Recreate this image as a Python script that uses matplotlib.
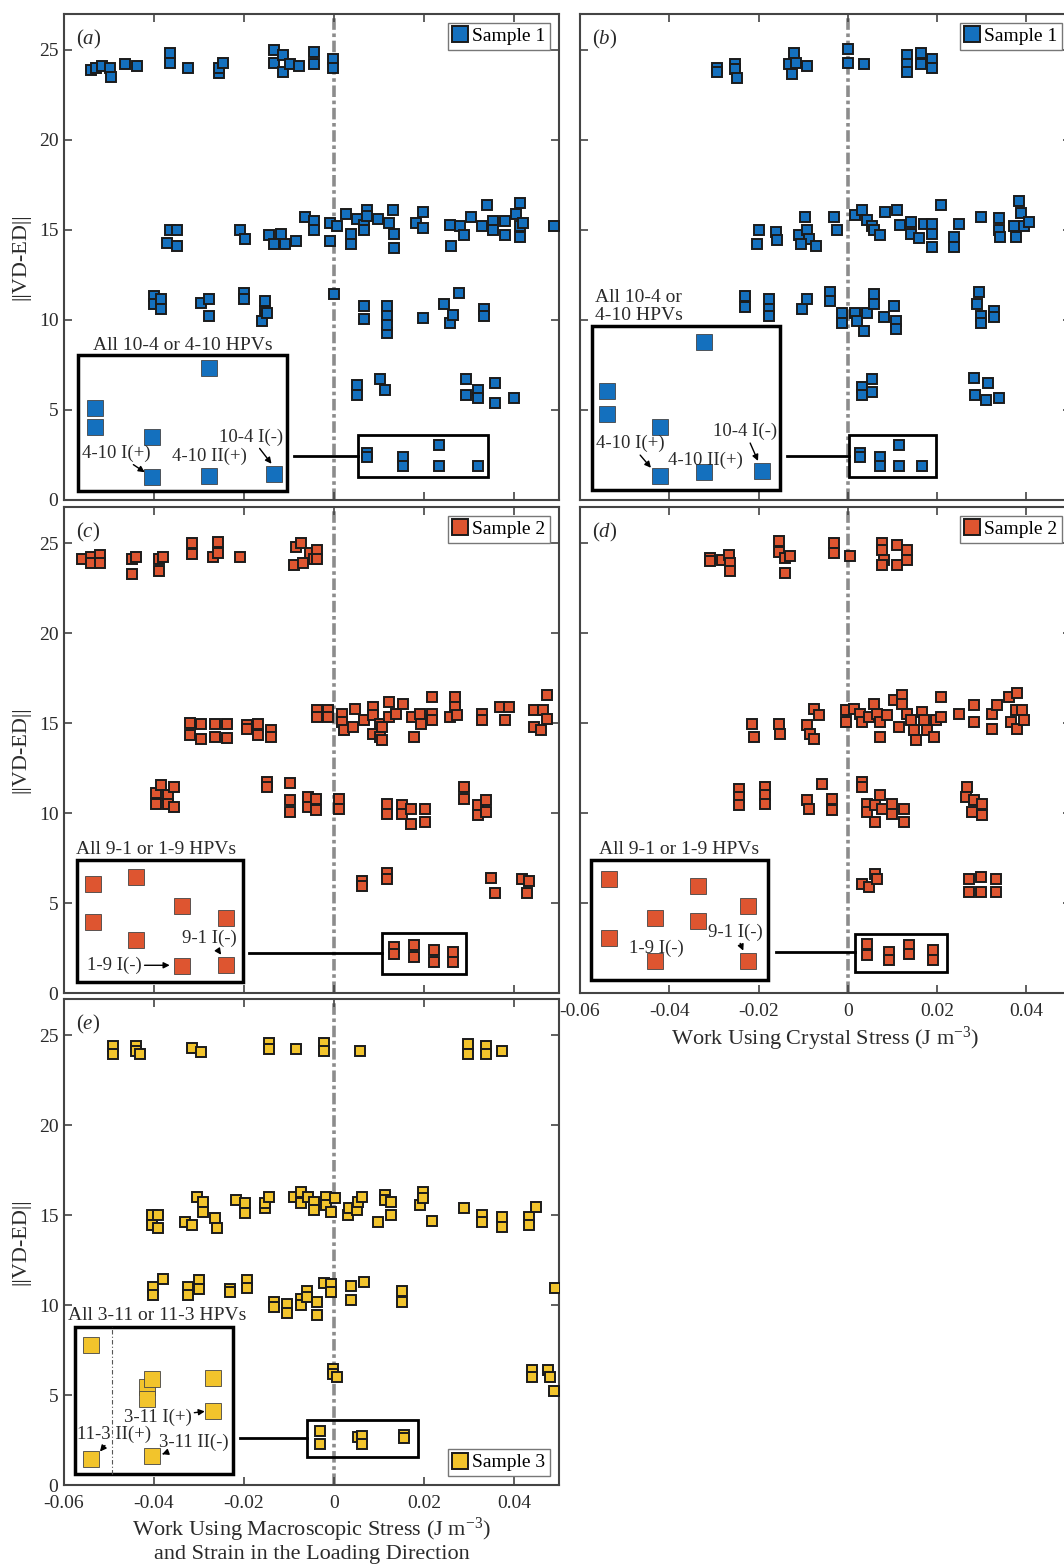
import matplotlib
matplotlib.use("Agg")
import matplotlib.pyplot as plt
from matplotlib.patches import Rectangle
from matplotlib.lines import Line2D

# ---- data: work (J m^-3) vs ||VD-ED|| ----
# panel (a): sample 1, macroscopic stress
a_x = [-0.0540, -0.0530, -0.0515, -0.0497, -0.0495, -0.0465, -0.0437, -0.0365, -0.0365, -0.0325,
       -0.0255, -0.0255, -0.0247, -0.0133, -0.0133, -0.0113, -0.0113, -0.0097, -0.0077, -0.0045,
       -0.0045, -0.0002, -0.0002,
       -0.0364, -0.0348, -0.0372, -0.0348, -0.0209, -0.0197, -0.0145, -0.0117, -0.0133, -0.0109,
       -0.0085, -0.0065, -0.0045, -0.0045, -0.0010, -0.0010, 0.0006, 0.0026, 0.0038, 0.0038,
       0.0050, 0.0066, 0.0074, 0.0074, 0.0066, 0.0098, 0.0122, 0.0130, 0.0134, 0.0134,
       0.0182, 0.0198, 0.0198, 0.0257, 0.0261, 0.0281, 0.0289, 0.0305, 0.0329, 0.0341,
       0.0353, 0.0353, 0.0381, 0.0381, 0.0405, 0.0413, 0.0413, 0.0413, 0.0421, 0.0488,
       -0.0400, -0.0400, -0.0384, -0.0384, -0.0296, -0.0277, -0.0277, -0.0201, -0.0201, -0.0161,
       -0.0153, -0.0153, -0.0150, 0.0, 0.0066, 0.0066, 0.0118, 0.0118, 0.0118, 0.0118,
       0.0198, 0.0245, 0.0257, 0.0265, 0.0277, 0.0333, 0.0333,
       0.0050, 0.0050, 0.0102, 0.0114, 0.0293, 0.0293, 0.0321, 0.0321, 0.0357, 0.0357, 0.0401,
       0.0074, 0.0074, 0.0154, 0.0154, 0.0233, 0.0233, 0.0321]
a_y = [23.9, 24.0, 24.1, 24.0, 23.5, 24.2, 24.1, 24.85, 24.3, 24.0,
       23.7, 24.0, 24.3, 25.0, 24.3, 24.7, 23.8, 24.2, 24.1, 24.9,
       24.2, 24.5, 24.0,
       15.0, 15.0, 14.3, 14.1, 15.0, 14.5, 14.7, 14.8, 14.2, 14.2,
       14.4, 15.7, 15.5, 15.0, 15.4, 14.4, 15.2, 15.9, 14.8, 14.2,
       15.6, 15.3, 16.1, 15.8, 15.0, 15.6, 15.4, 16.1, 14.8, 14.0,
       15.4, 16.0, 15.1, 15.3, 14.1, 15.2, 14.7, 15.7, 15.2, 16.4,
       15.5, 15.0, 15.5, 14.7, 15.9, 16.5, 15.2, 14.6, 15.4, 15.2,
       11.35, 10.9, 11.15, 10.6, 10.95, 11.15, 10.2, 11.5, 11.15, 9.95,
       10.5, 11.05, 10.4, 11.45, 10.8, 10.05, 10.8, 10.2, 9.3, 9.75,
       10.1, 10.9, 9.85, 10.3, 11.5, 10.6, 10.2,
       6.4, 5.85, 6.7, 6.1, 6.75, 5.85, 6.1, 5.65, 6.5, 5.4, 5.65,
       2.6, 2.4, 2.4, 1.9, 3.05, 1.9, 1.9]
a_zoom_x = [-0.0532, -0.0532, -0.0404, -0.0404, -0.0277, -0.0277, -0.0133]
a_zoom_y = [5.1, 4.07, 3.5, 1.3, 7.33, 1.36, 1.45]

# panel (b): sample 1, crystal stress
b_x = [-0.0293, -0.0293, -0.0252, -0.0252, -0.0248, -0.0132, -0.0125, -0.0121, -0.0117, -0.0091,
       0.0, 0.0, 0.0036, 0.0133, 0.0133, 0.0133, 0.0163, 0.0163, 0.0189, 0.0189,
       -0.0200, -0.0203, -0.0162, -0.0159, -0.0110, -0.0095, -0.0091, -0.0087, -0.0072, -0.0106,
       -0.0031, -0.0024, 0.0017, 0.0032, 0.0043, 0.0055, 0.0058, 0.0073, 0.0084, 0.0111,
       0.0118, 0.0141, 0.0141, 0.0159, 0.0170, 0.0189, 0.0189, 0.0189, 0.0208, 0.0238,
       0.0238, 0.0249, 0.0298, 0.0339, 0.0339, 0.0342, 0.0372, 0.0376, 0.0384, 0.0387,
       0.0395, 0.0406,
       -0.0230, -0.0230, -0.0177, -0.0177, -0.0177, -0.0102, -0.0091, -0.0039, -0.0039, -0.0013,
       -0.0013, 0.0017, 0.0021, 0.0036, 0.0043, 0.0058, 0.0058, 0.0081, 0.0103, 0.0107,
       0.0107, 0.0294, 0.0290, 0.0298, 0.0298, 0.0327, 0.0327,
       0.0032, 0.0032, 0.0055, 0.0055, 0.0283, 0.0286, 0.0313, 0.0309, 0.0339,
       0.0028, 0.0028, 0.0073, 0.0073, 0.0114, 0.0114, 0.0167]
b_y = [24.0, 23.8, 24.2, 23.95, 23.45, 24.2, 23.65, 24.85, 24.3, 24.1,
       25.05, 24.3, 24.2, 24.75, 24.2, 23.8, 24.85, 24.2, 24.5, 24.0,
       15.0, 14.25, 14.9, 14.45, 14.7, 15.75, 15.0, 14.5, 14.1, 14.25,
       15.75, 15.0, 15.85, 16.1, 15.55, 15.2, 15.0, 14.7, 16.0, 16.1,
       15.3, 15.45, 14.8, 14.55, 15.35, 15.35, 14.8, 14.05, 16.4, 14.6,
       14.05, 15.35, 15.75, 15.65, 15.0, 14.6, 15.2, 14.6, 16.6, 15.95,
       15.2, 15.45,
       11.35, 10.7, 11.15, 10.6, 10.2, 10.6, 11.15, 11.55, 11.05, 10.4,
       9.85, 10.4, 9.95, 9.4, 10.4, 11.45, 10.9, 10.15, 10.8, 9.95,
       9.5, 11.55, 10.9, 10.2, 9.85, 10.5, 10.15,
       6.3, 5.85, 6.7, 6.0, 6.77, 5.85, 6.5, 5.55, 5.65,
       2.6, 2.4, 2.4, 1.9, 3.05, 1.9, 1.9]
b_zoom_x = [-0.0540, -0.0540, -0.0420, -0.0420, -0.0323, -0.0323, -0.0192]
b_zoom_y = [6.03, 4.78, 4.07, 1.36, 8.77, 1.53, 1.59]

# panel (c): sample 2, macroscopic stress
c_x = [-0.0559, -0.0539, -0.0539, -0.0520, -0.0520, -0.0448, -0.0448, -0.0440, -0.0388, -0.0388,
       -0.0380, -0.0316, -0.0316, -0.0269, -0.0257, -0.0257, -0.0209, -0.0089, -0.0085, -0.0073,
       -0.0069, -0.0053, -0.0045, -0.0037, -0.0037,
       -0.0320, -0.0296, -0.0265, -0.0237, -0.0320, -0.0296, -0.0265, -0.0237, -0.0193, -0.0169,
       -0.0193, -0.0169, -0.0141, -0.0141,
       -0.0037, -0.0037, -0.0014, -0.0014, 0.0018, 0.0018, 0.0022, 0.0046, 0.0042, 0.0066,
       0.0086, 0.0086, 0.0086, 0.0102, 0.0102, 0.0106, 0.0122, 0.0122, 0.0138, 0.0154,
       0.0174, 0.0178, 0.0190, 0.0194, 0.0218, 0.0218, 0.0218, 0.0257, 0.0269, 0.0269,
       0.0273, 0.0329, 0.0329, 0.0369, 0.0381, 0.0389, 0.0445, 0.0445, 0.0461, 0.0465,
       0.0473, 0.0473, 0.0106,
       -0.0396, -0.0396, -0.0384, -0.0368, -0.0368, -0.0356, -0.0356, -0.0149, -0.0149, -0.0097,
       -0.0097, -0.0097, -0.0057, -0.0057, -0.0041, -0.0041, 0.0010, 0.0010, 0.0118, 0.0118,
       0.0150, 0.0150, 0.0170, 0.0170, 0.0202, 0.0202, 0.0289, 0.0289, 0.0321, 0.0321,
       0.0337, 0.0337,
       0.0062, 0.0062, 0.0118, 0.0118, 0.0349, 0.0357, 0.0417, 0.0429, 0.0433,
       0.0134, 0.0134, 0.0178, 0.0178, 0.0222, 0.0222, 0.0265, 0.0265]
c_y = [24.1, 24.25, 23.9, 24.35, 23.9, 24.1, 23.3, 24.25, 24.1, 23.45,
       24.25, 25.0, 24.4, 24.25, 25.04, 24.45, 24.25, 23.8, 24.8, 25.0,
       23.9, 24.45, 24.1, 24.6, 24.1,
       15.0, 14.93, 14.96, 14.96, 14.31, 14.13, 14.2, 14.18, 14.87, 14.96,
       14.68, 14.31, 14.6, 14.2,
       15.7, 15.33, 15.7, 15.33, 15.52, 15.06, 14.6, 15.8, 14.78, 15.15,
       15.9, 15.43, 14.4, 14.96, 14.22, 14.78, 16.17, 15.33, 15.52, 16.08,
       15.33, 14.22, 15.52, 14.96, 16.45, 15.52, 15.15, 15.33, 16.45, 15.9,
       15.43, 15.52, 15.15, 15.9, 15.15, 15.9, 15.7, 14.78, 14.6, 15.7,
       15.24, 16.54, 14.04,
       11.09, 10.52, 11.55, 11.0, 10.52, 11.46, 10.34, 11.74, 11.46, 11.65,
       10.71, 10.06, 10.9, 10.34, 10.8, 10.15, 10.8, 10.24, 10.52, 9.96,
       10.43, 9.96, 10.24, 9.4, 10.24, 9.49, 11.46, 10.8, 10.43, 9.87,
       10.71, 10.06,
       6.22, 5.94, 6.69, 6.31, 6.4, 5.56, 6.31, 5.56, 6.22,
       2.57, 2.19, 2.66, 2.0, 2.38, 1.72, 2.28, 1.72]
c_zoom_x = [-0.0535, -0.0535, -0.0440, -0.0440, -0.0338, -0.0338, -0.0239, -0.0239]
c_zoom_y = [6.03, 3.93, 6.44, 2.94, 4.85, 1.5, 4.16, 1.54]

# panel (d): sample 2, crystal stress
d_x = [-0.0308, -0.0308, -0.0282, -0.0267, -0.0263, -0.0263, -0.0155, -0.0155, -0.0140, -0.0140,
       -0.0129, -0.0031, -0.0031, 0.0006, 0.0077, 0.0077, 0.0081, 0.0077, 0.0111, 0.0111,
       0.0133, 0.0133,
       -0.0215, -0.0211, -0.0155, -0.0151, -0.0091, -0.0084, -0.0076, -0.0076, -0.0065,
       -0.0005, -0.0005, 0.0013, 0.0028, 0.0032, 0.0047, 0.0058, 0.0066, 0.0073, 0.0073,
       0.0088, 0.0103, 0.0114, 0.0122, 0.0122, 0.0133, 0.0141, 0.0148, 0.0152, 0.0167,
       0.0170, 0.0178, 0.0193, 0.0197, 0.0208, 0.0208, 0.0249, 0.0283, 0.0283, 0.0324,
       0.0324, 0.0335, 0.0361, 0.0365, 0.0376, 0.0380, 0.0380, 0.0391, 0.0395,
       -0.0244, -0.0244, -0.0244, -0.0185, -0.0185, -0.0185, -0.0091, -0.0087, -0.0058, -0.0035,
       -0.0035, 0.0032, 0.0032, 0.0043, 0.0043, 0.0062, 0.0062, 0.0073, 0.0077, 0.0099,
       0.0099, 0.0126, 0.0126, 0.0268, 0.0264, 0.0283, 0.0279, 0.0301, 0.0301,
       0.0032, 0.0047, 0.0062, 0.0066, 0.0271, 0.0271, 0.0298, 0.0298, 0.0331, 0.0331,
       0.0043, 0.0043, 0.0092, 0.0092, 0.0137, 0.0137, 0.0191, 0.0191]
d_y = [24.16, 23.98, 24.07, 24.35, 23.88, 23.42, 25.09, 24.48, 24.16, 23.33,
       24.26, 25.0, 24.44, 24.26, 25.0, 24.63, 24.07, 23.79, 24.91, 23.79,
       24.63, 24.07,
       14.96, 14.22, 14.96, 14.41, 14.87, 14.41, 15.79, 14.13, 15.42,
       15.7, 15.06, 15.79, 15.52, 15.06, 15.33, 16.08, 15.52, 15.06, 14.22,
       15.42, 16.26, 14.78, 16.54, 16.08, 15.52, 15.15, 14.6, 14.04, 15.61,
       15.15, 14.6, 14.22, 15.15, 16.45, 15.33, 15.52, 15.98, 15.06, 15.52,
       14.68, 15.98, 16.45, 15.06, 15.7, 16.64, 14.68, 15.7, 15.15,
       11.35, 10.89, 10.43, 11.44, 10.98, 10.52, 10.7, 10.24, 11.63, 10.8,
       10.15, 11.72, 11.44, 10.52, 10.06, 10.43, 9.5, 10.98, 10.24, 10.52,
       9.96, 10.24, 9.5, 11.44, 10.89, 10.7, 10.06, 10.52, 9.87,
       6.07, 5.89, 6.63, 6.35, 6.35, 5.61, 6.44, 5.61, 6.35, 5.61,
       2.74, 2.09, 2.28, 1.81, 2.65, 2.19, 2.41, 1.81]
d_zoom_x = [-0.0536, -0.0536, -0.0433, -0.0433, -0.0335, -0.0335, -0.0224, -0.0224]
d_zoom_y = [6.35, 3.07, 4.19, 1.76, 5.94, 4.0, 4.83, 1.76]

# panel (e): sample 3, macroscopic stress
e_x = [-0.0492, -0.0492, -0.0440, -0.0440, -0.0432, -0.0316, -0.0296, -0.0145, -0.0145, -0.0085,
       -0.0022, -0.0022, 0.0057, 0.0297, 0.0297, 0.0337, 0.0337, 0.0373,
       -0.0404, -0.0404, -0.0392, -0.0392, -0.0332, -0.0316, -0.0304, -0.0292, -0.0292, -0.0265,
       -0.0261, -0.0217, -0.0197, -0.0197, -0.0153, -0.0153, -0.0145, -0.0089, -0.0073, -0.0073,
       -0.0057, -0.0045, -0.0045, -0.0018, -0.0018, -0.0006, 0.0002, 0.0030, 0.0034, 0.0050,
       0.0054, 0.0062, 0.0098, 0.0114, 0.0114, 0.0126, 0.0126, 0.0190, 0.0198, 0.0198,
       0.0218, 0.0289, 0.0329, 0.0329, 0.0373, 0.0373, 0.0433, 0.0433, 0.0449,
       -0.0402, -0.0402, -0.0379, -0.0324, -0.0324, -0.0301, -0.0301, -0.0231, -0.0231, -0.0194,
       -0.0194, -0.0134, -0.0134, -0.0104, -0.0104, -0.0074, -0.0074, -0.0060, -0.0060, -0.0037,
       -0.0037, -0.0022, -0.0007, -0.0007, 0.0037, 0.0037, 0.0067, 0.0152, 0.0152, 0.0491,
       -0.0002, -0.0002, 0.0006, 0.0441, 0.0441, 0.0476, 0.0480, 0.0488,
       -0.0031, -0.0031, 0.0054, 0.0062, 0.0062, 0.0156, 0.0156]
e_y = [24.39, 23.92, 24.39, 24.11, 23.96, 24.29, 24.07, 24.57, 24.2, 24.2,
       24.57, 24.11, 24.11, 24.48, 23.96, 24.39, 23.96, 24.11,
       15.0, 14.44, 15.0, 14.26, 14.63, 14.44, 16.02, 15.74, 15.19, 14.81,
       14.26, 15.84, 15.65, 15.09, 15.37, 15.65, 16.02, 16.02, 16.3, 15.65,
       16.02, 15.74, 15.28, 16.02, 15.56, 15.19, 15.93, 15.0, 15.37, 15.28,
       15.74, 16.02, 14.63, 16.11, 15.84, 15.74, 15.0, 15.56, 16.3, 15.93,
       14.67, 15.37, 15.0, 14.63, 14.91, 14.35, 14.91, 14.44, 15.46,
       10.98, 10.56, 11.44, 10.98, 10.56, 11.41, 10.89, 10.89, 10.7, 11.41,
       10.93, 10.15, 9.87, 10.06, 9.56, 10.33, 10.0, 10.8, 10.43, 10.15,
       9.44, 11.22, 11.17, 10.7, 11.04, 10.3, 11.3, 10.8, 10.19, 10.93,
       6.46, 6.18, 5.99, 6.37, 5.99, 6.37, 5.99, 5.25,
       2.98, 2.27, 2.64, 2.74, 2.27, 2.79, 2.6]
e_zoom_x = [-0.0539, -0.0539, -0.0416, -0.0416, -0.0404, -0.0269, -0.0269, -0.0404]
e_zoom_y = [7.77, 1.43, 5.44, 4.79, 5.9, 5.96, 4.1, 1.62]

x_ticks = [-0.06, -0.04, -0.02, 0, 0.02, 0.04]
x_tick_labels = ['-0.06', '-0.04', '-0.02', '0', '0.02', '0.04']
y_ticks = [0, 5, 10, 15, 20, 25]

plt.rcParams['font.family'] = ['Liberation Serif', 'DejaVu Serif']
plt.rcParams['mathtext.fontset'] = 'custom'
plt.rcParams['mathtext.rm'] = 'Liberation Serif'
plt.rcParams['mathtext.it'] = 'Liberation Serif:italic'

BLUE = '#1470BE'
RED = '#DE5530'
YELLOW = '#F2C42C'
EDGE = '#1b1b1b'
TXT = '#2a2a2a'

W, H = 1064, 1568
fig = plt.figure(figsize=(W / 100, H / 100), dpi=100)


def add_ax(left, top, width, height=486):
    return fig.add_axes([left / W, (H - top - height) / H, width / W, height / H])


ax_a = add_ax(64, 14, 495)
ax_c = add_ax(64, 507, 495)
ax_e = add_ax(64, 999, 495)
ax_b = add_ax(580, 14, 491)
ax_d = add_ax(580, 507, 491)

# layout of the zoom boxes (data coordinates of each panel)
layouts = {
    'a': dict(inset=(-0.0570, 0.52, -0.0105, 8.08), box=(0.0054, 1.3, 0.0343, 3.6),
              link=(-0.0089, 0.0054, 2.43),
              title=('All 10-4 or 4-10 HPVs', -0.0336, 8.6, 'center'),
              notes=[('4-10 I(+)', (-0.0484, 2.6), (-0.0418, 1.5)),
                     ('4-10 II(+)', (-0.0277, 2.4), None),
                     ('10-4 I(-)', (-0.0185, 3.5), (-0.0137, 1.95))]),
    'b': dict(inset=(-0.0573, 0.56, -0.0153, 9.66), box=(0.0002, 1.27, 0.0197, 3.6),
              link=(-0.0136, 0.0002, 2.43),
              title=('All 10-4 or\n4-10 HPVs', -0.0566, 10.75, 'left'),
              notes=[('4-10 I(+)', (-0.0487, 3.13), (-0.0439, 1.73)),
                     ('4-10 II(+)', (-0.0319, 2.2), None),
                     ('10-4 I(-)', (-0.0230, 3.8), (-0.0200, 2.1))]),
    'c': dict(inset=(-0.0571, 0.6, -0.0202, 7.38), box=(0.0106, 1.07, 0.0293, 3.35),
              link=(-0.0189, 0.0106, 2.23),
              title=('All 9-1 or 1-9 HPVs', -0.0396, 7.96, 'center'),
              notes=[('1-9 I(-)', (-0.0488, 1.54), (-0.0362, 1.54)),
                     ('9-1 I(-)', (-0.0276, 3.03), (-0.0249, 2.06))]),
    'd': dict(inset=(-0.0576, 0.7, -0.0179, 7.41), box=(0.0017, 1.17, 0.0223, 3.3),
              link=(-0.0162, 0.0017, 2.28),
              title=('All 9-1 or 1-9 HPVs', -0.0379, 7.98, 'center'),
              notes=[('1-9 I(-)', (-0.0428, 2.46), None),
                     ('9-1 I(-)', (-0.0252, 3.39), (-0.0233, 2.28))]),
    'e': dict(inset=(-0.0575, 0.6, -0.0225, 8.79), box=(-0.0060, 1.58, 0.0187, 3.61),
              link=(-0.0209, -0.0060, 2.6),
              title=('All 3-11 or 11-3 HPVs', -0.0392, 9.44, 'center'),
              notes=[('3-11 I(+)', (-0.0392, 3.76), (-0.0284, 4.1)),
                     ('11-3 II(+)', (-0.0488, 2.83), (-0.0522, 1.8)),
                     ('3-11 II(-)', (-0.0312, 2.37), (-0.0382, 1.71))],
              guide=-0.0493),
}


def draw_panel(ax, tag, xs, ys, zx, zy, color, sample, legend_loc):
    lay = layouts[tag]
    ax.set_xlim(-0.06, 0.05)
    ax.set_ylim(0, 27)
    ax.axvline(0, color='#8c8c8c', lw=2.6, ls=(0, (3.2, 1.0, 1.0, 1.0)), zorder=1)

    bx0, by0, bx1, by1 = lay['box']
    ax.add_patch(Rectangle((bx0, by0), bx1 - bx0, by1 - by0, fill=False,
                           ec='black', lw=2, zorder=2))
    lx0, lx1, ly = lay['link']
    ax.plot([lx0, lx1], [ly, ly], color='black', lw=2, zorder=2)

    ax.plot(xs, ys, 's', ls='none', ms=7.6, mfc=color, mec=EDGE, mew=1.4, zorder=3)

    ix0, iy0, ix1, iy1 = lay['inset']
    ax.add_patch(Rectangle((ix0, iy0), ix1 - ix0, iy1 - iy0, fc='white',
                           ec='black', lw=2.5, zorder=4))
    if 'guide' in lay:
        ax.plot([lay['guide'], lay['guide']], [iy0, iy1], color='#555555', lw=0.8,
                ls=(0, (4, 2, 1, 2)), zorder=4.5)
    ax.plot(zx, zy, 's', ls='none', ms=12, mfc=color, mec='#444444', mew=0.6, zorder=5)

    text, tx, ty, ha = lay['title']
    ax.text(tx, ty, text, ha=ha, va='center', fontsize=14, linespacing=1.0,
            color=TXT, zorder=6)
    for label, pos, tip in lay['notes']:
        if tip is None:
            ax.text(pos[0], pos[1], label, ha='center', va='center', fontsize=13.5,
                    color=TXT, zorder=6)
        else:
            ax.annotate(label, xy=tip, xytext=pos, ha='center', va='center', fontsize=13.5,
                        color=TXT, zorder=6,
                        arrowprops=dict(arrowstyle='-|>', color='black', lw=1.0,
                                        mutation_scale=9, shrinkA=0, shrinkB=1))

    handle = Line2D([], [], marker='s', ls='none', ms=11, mfc=color, mec=EDGE, mew=1.4)
    ax.legend([handle], [sample], loc=legend_loc, fontsize=14, fancybox=False,
              edgecolor='#777777', framealpha=1, handlelength=0.7, handletextpad=0.3,
              borderpad=0.25, borderaxespad=0.45)

    ax.text(0.025, 0.972, r'($\mathit{%s}$)' % tag, transform=ax.transAxes,
            ha='left', va='top', fontsize=15, color=TXT)

    ax.set_xticks(x_ticks)
    ax.set_xticklabels(x_tick_labels)
    ax.set_yticks(y_ticks)
    ax.set_yticklabels([str(v) for v in y_ticks])
    ax.tick_params(direction='in', top=True, right=True, length=6, width=1.2,
                   labelsize=14, color='#444444', labelcolor=TXT, pad=4)
    ax.tick_params(axis='x', pad=7)
    for sp in ax.spines.values():
        sp.set_color('#444444')
        sp.set_linewidth(1.5)


draw_panel(ax_a, 'a', a_x, a_y, a_zoom_x, a_zoom_y, BLUE, 'Sample 1', 'upper right')
draw_panel(ax_b, 'b', b_x, b_y, b_zoom_x, b_zoom_y, BLUE, 'Sample 1', 'upper right')
draw_panel(ax_c, 'c', c_x, c_y, c_zoom_x, c_zoom_y, RED, 'Sample 2', 'upper right')
draw_panel(ax_d, 'd', d_x, d_y, d_zoom_x, d_zoom_y, RED, 'Sample 2', 'upper right')
draw_panel(ax_e, 'e', e_x, e_y, e_zoom_x, e_zoom_y, YELLOW, 'Sample 3', 'lower right')

for ax in (ax_a, ax_c):
    ax.tick_params(labelbottom=False)
ax_b.tick_params(labelbottom=False, labelleft=False)
ax_d.tick_params(labelleft=False)

for ax in (ax_a, ax_c, ax_e):
    ax.set_ylabel('||VD-ED||', fontsize=16, labelpad=6, color=TXT)

ax_d.set_xlabel(r'Work Using Crystal Stress (J m$^{-3}$)', fontsize=16, labelpad=4, color=TXT)
ax_e.set_xlabel('Work Using Macroscopic Stress (J m$^{-3}$)\nand Strain in the Loading Direction',
                fontsize=16, labelpad=3, linespacing=1.05, color=TXT)

fig.savefig('out.png', dpi=100)
